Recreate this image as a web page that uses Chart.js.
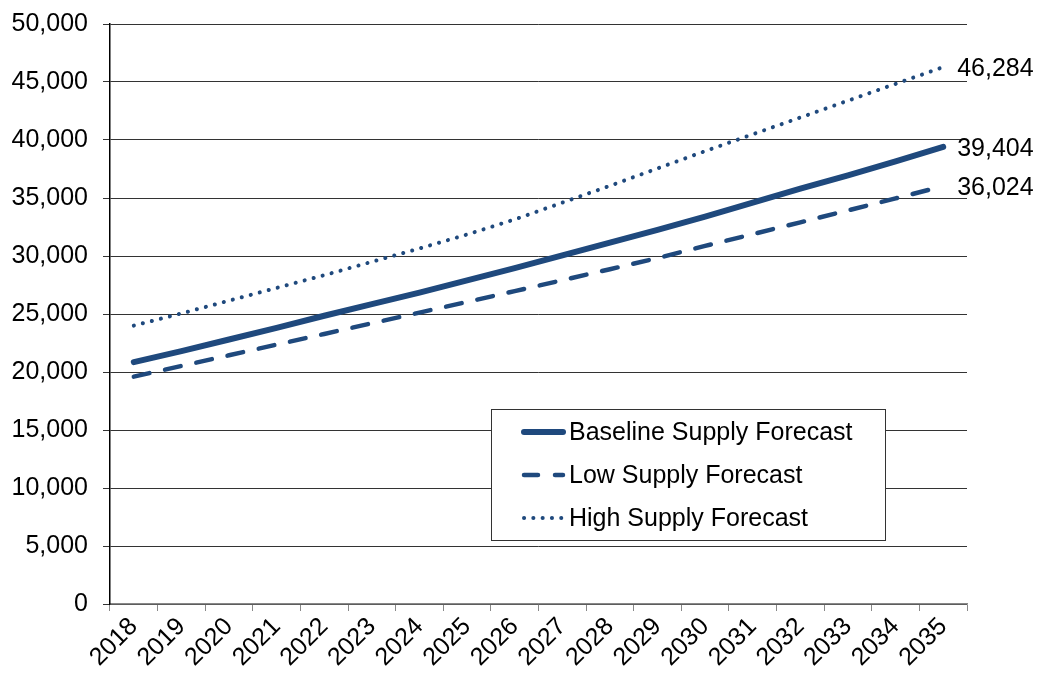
<!DOCTYPE html>
<html>
<head>
<meta charset="utf-8">
<script src="https://cdn.jsdelivr.net/npm/chart.js@4"></script>
<style>
  html, body { margin: 0; padding: 0; background: #fff; }
  #wrap { width: 1038px; height: 673px; position: relative; }
</style>
</head>
<body>
<div id="wrap"><canvas id="supplyChart"></canvas></div>
<script>
// data
const years = ['2018', '2019', '2020', '2021', '2022', '2023', '2024', '2025', '2026',
  '2027', '2028', '2029', '2030', '2031', '2032', '2033', '2034', '2035'];
const baseline = [20850, 21800, 22800, 23800, 24850, 25850, 26850, 27900, 28950,
  30050, 31150, 32250, 33400, 34600, 35800, 36950, 38150, 39404];
const low = [19600, 20520, 21440, 22360, 23280, 24200, 25120, 26040, 26970,
  27910, 28860, 29820, 30870, 31880, 32900, 33930, 34970, 36024];
const high = [24000, 25050, 26150, 27250, 28350, 29500, 30650, 31850, 33150,
  34600, 36050, 37550, 39040, 40490, 41940, 43390, 44840, 46284];
const yTicks = [0, 5000, 10000, 15000, 20000, 25000, 30000, 35000, 40000, 45000, 50000];

const navy = '#1f497d';
const font = 'Arial, "Liberation Sans", sans-serif';

// value at the end of each line
const endLabels = {
  id: 'endLabels',
  afterDatasetsDraw(chart) {
    const c = chart.ctx;
    c.save();
    c.font = '25px ' + font;
    c.fillStyle = '#000';
    c.textBaseline = 'middle';
    c.textAlign = 'left';
    chart.data.datasets.forEach((ds, i) => {
      const pts = chart.getDatasetMeta(i).data;
      const p = pts[pts.length - 1];
      const v = ds.data[ds.data.length - 1];
      c.fillText(v.toLocaleString('en-US'), p.x + 14, p.y + 2);
    });
    c.restore();
  }
};

// boxed legend inside the plot
const boxLegend = {
  id: 'boxLegend',
  afterDraw(chart) {
    const c = chart.ctx;
    const a = chart.chartArea;
    const x = a.left + 381, y = a.top + 385, w = 394, h = 131;
    c.save();
    c.fillStyle = '#fff';
    c.fillRect(x, y, w, h);
    c.strokeStyle = '#333';
    c.lineWidth = 1;
    c.strokeRect(x + 0.5, y + 0.5, w, h);
    chart.data.datasets.forEach((ds, i) => {
      const ry = y + 23 + i * 43;
      c.beginPath();
      c.strokeStyle = ds.borderColor;
      c.lineWidth = ds.borderWidth;
      c.lineCap = 'round';
      c.setLineDash(ds.legendDash || ds.borderDash || []);
      c.moveTo(x + 33, ry);
      c.lineTo(x + 72, ry);
      c.stroke();
      c.setLineDash([]);
      c.fillStyle = '#000';
      c.font = '25px ' + font;
      c.textBaseline = 'middle';
      c.fillText(ds.label, x + 78, ry + 1);
    });
    c.restore();
  }
};

const ctx = document.getElementById('supplyChart').getContext('2d');
const chart = new Chart(ctx, {
  type: 'line',
  data: {
    labels: years,
    datasets: [
      {
        label: 'Baseline Supply Forecast',
        data: baseline,
        borderColor: navy,
        borderWidth: 6,
        borderCapStyle: 'round',
        pointRadius: 0,
        tension: 0
      },
      {
        label: 'Low Supply Forecast',
        data: low,
        borderColor: navy,
        borderWidth: 4.5,
        borderDash: [16, 16],
        legendDash: [14, 17],
        borderCapStyle: 'round',
        pointRadius: 0,
        tension: 0
      },
      {
        label: 'High Supply Forecast',
        data: high,
        borderColor: navy,
        borderWidth: 4,
        borderDash: [0.1, 9.2],
        borderCapStyle: 'round',
        pointRadius: 0,
        tension: 0
      }
    ]
  },
  options: {
    responsive: true,
    maintainAspectRatio: false,
    animation: false,
    layout: { padding: { top: 24, right: 71, left: 0, bottom: 0 } },
    plugins: {
      legend: { display: false },
      tooltip: { enabled: false }
    },
    scales: {
      x: {
        offset: true,
        grid: {
          offset: true,
          drawOnChartArea: false,
          tickLength: 7,
          tickColor: '#888'
        },
        border: { color: '#888', width: 1.5 },
        ticks: {
          color: '#000',
          font: { family: font, size: 25 },
          maxRotation: 45,
          minRotation: 45,
          autoSkip: false,
          padding: 1
        },
        afterFit(scale) { scale.height = 69; }
      },
      y: {
        min: 0,
        max: 50000,
        afterBuildTicks(scale) { scale.ticks = yTicks.map(v => ({ value: v })); },
        grid: {
          color: '#333',
          tickColor: '#333',
          tickLength: 7,
          lineWidth: 1
        },
        border: { color: '#000', width: 1.5 },
        ticks: {
          color: '#000',
          font: { family: font, size: 25 },
          padding: 15,
          callback: v => v.toLocaleString('en-US')
        },
        afterFit(scale) {
          scale.width = 110;
          scale.paddingTop = 0;
          scale.paddingBottom = 0;
        }
      }
    }
  },
  plugins: [endLabels, boxLegend]
});
</script>
</body>
</html>
